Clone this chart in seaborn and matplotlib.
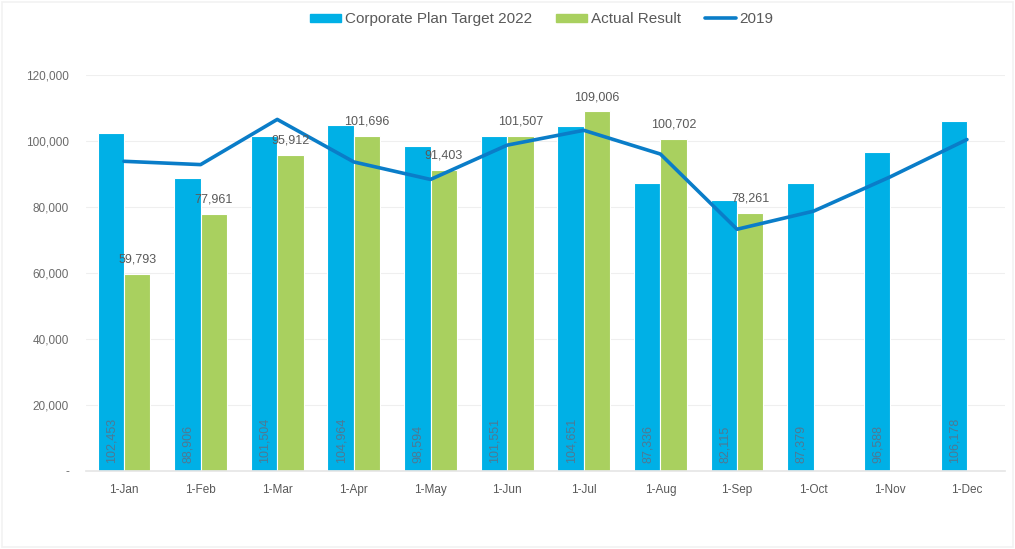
import numpy as np
import pandas as pd
import matplotlib
matplotlib.use("Agg")
import matplotlib.pyplot as plt
import matplotlib.patches as mpatches
from matplotlib.lines import Line2D
from matplotlib.ticker import FuncFormatter
import seaborn as sns

months = ["1-Jan", "1-Feb", "1-Mar", "1-Apr", "1-May", "1-Jun",
          "1-Jul", "1-Aug", "1-Sep", "1-Oct", "1-Nov", "1-Dec"]
target_2022 = [102453, 88906, 101504, 104964, 98594, 101551,
               104651, 87336, 82115, 87379, 96588, 106178]
actual = [59793, 77961, 95912, 101696, 91403, 101507,
          109006, 100702, 78261, np.nan, np.nan, np.nan]
line_2019 = [93900, 92900, 106600, 93700, 88400, 98800,
             103300, 96100, 73300, 78800, 89200, 100500]
series_names = ["Corporate Plan Target 2022", "Actual Result", "2019"]
yticks = [0, 20000, 40000, 60000, 80000, 100000, 120000]

C_BLUE = "#00B0E6"
C_GREEN = "#A9D05F"
C_LINE = "#0A7DC8"
C_TEXT = "#595959"

sns.set_theme(style="white")
plt.rcParams["font.family"] = ["Liberation Sans", "DejaVu Sans"]

df = pd.DataFrame({
    "month": months * 2,
    "value": target_2022 + actual,
    "series": [series_names[0]] * 12 + [series_names[1]] * 12,
})

fig = plt.figure(figsize=(10.15, 5.49), dpi=100)
ax = fig.add_axes([0.0844, 0.142, 0.906, 0.721])

sns.barplot(data=df, x="month", y="value", hue="series", order=months,
            hue_order=series_names[:2], palette=[C_BLUE, C_GREEN],
            width=0.69, gap=0.0, errorbar=None, ax=ax, legend=False,
            edgecolor="white", linewidth=0.8, saturation=1)

sns.pointplot(x=months, y=line_2019, order=months, color=C_LINE,
              markers="", linewidth=2.6, errorbar=None, ax=ax)

# labels
bar_conts = ax.containers
blue_bars = bar_conts[0]
green_bars = bar_conts[1]
for rect, v in zip(blue_bars, target_2022):
    ax.text(rect.get_x() + rect.get_width() / 2 + 0.01, 2300, f"{v:,.0f}",
            rotation=90, ha="center", va="bottom", fontsize=9,
            color="#4f7893")
for rect, v in zip(green_bars, actual):
    if np.isnan(v):
        continue
    ax.text(rect.get_x() + rect.get_width() / 2, v + 2500, f"{v:,.0f}",
            ha="center", va="bottom", fontsize=9, color=C_TEXT)

ax.set_ylim(0, 120000)
ax.set_xlim(-0.5, 11.5)
ax.set_yticks(yticks)
ax.yaxis.set_major_formatter(FuncFormatter(lambda v, p: "-" if v == 0 else f"{v:,.0f}"))
ax.grid(axis="y", color="#EFEFEF", linewidth=0.8)
ax.set_axisbelow(True)
for s in ["top", "right", "left"]:
    ax.spines[s].set_visible(False)
ax.spines["bottom"].set_color("#E6E6E6")
ax.tick_params(axis="both", length=0, labelsize=8.5, colors=C_TEXT)
ax.tick_params(axis="y", pad=12, colors="#6b6b6b")
ax.tick_params(axis="x", pad=9)
ax.set_xlabel("")
ax.set_ylabel("")

handles = [mpatches.Patch(color=C_BLUE, label=series_names[0]),
           mpatches.Patch(color=C_GREEN, label=series_names[1]),
           Line2D([0], [0], color=C_LINE, lw=2.6, label=series_names[2])]
fig.legend(handles=handles, loc="center", bbox_to_anchor=(0.534, 0.965),
           ncol=3, frameon=False, fontsize=11, handlelength=2.0,
           handleheight=0.45, handletextpad=0.25, columnspacing=1.6,
           labelcolor=C_TEXT)

fig.patches.append(mpatches.Rectangle((0.002, 0.003), 0.996, 0.994,
                                      transform=fig.transFigure, fill=False,
                                      edgecolor="#F2F2F2", linewidth=1.2))

fig.savefig("out.png", dpi=100)
